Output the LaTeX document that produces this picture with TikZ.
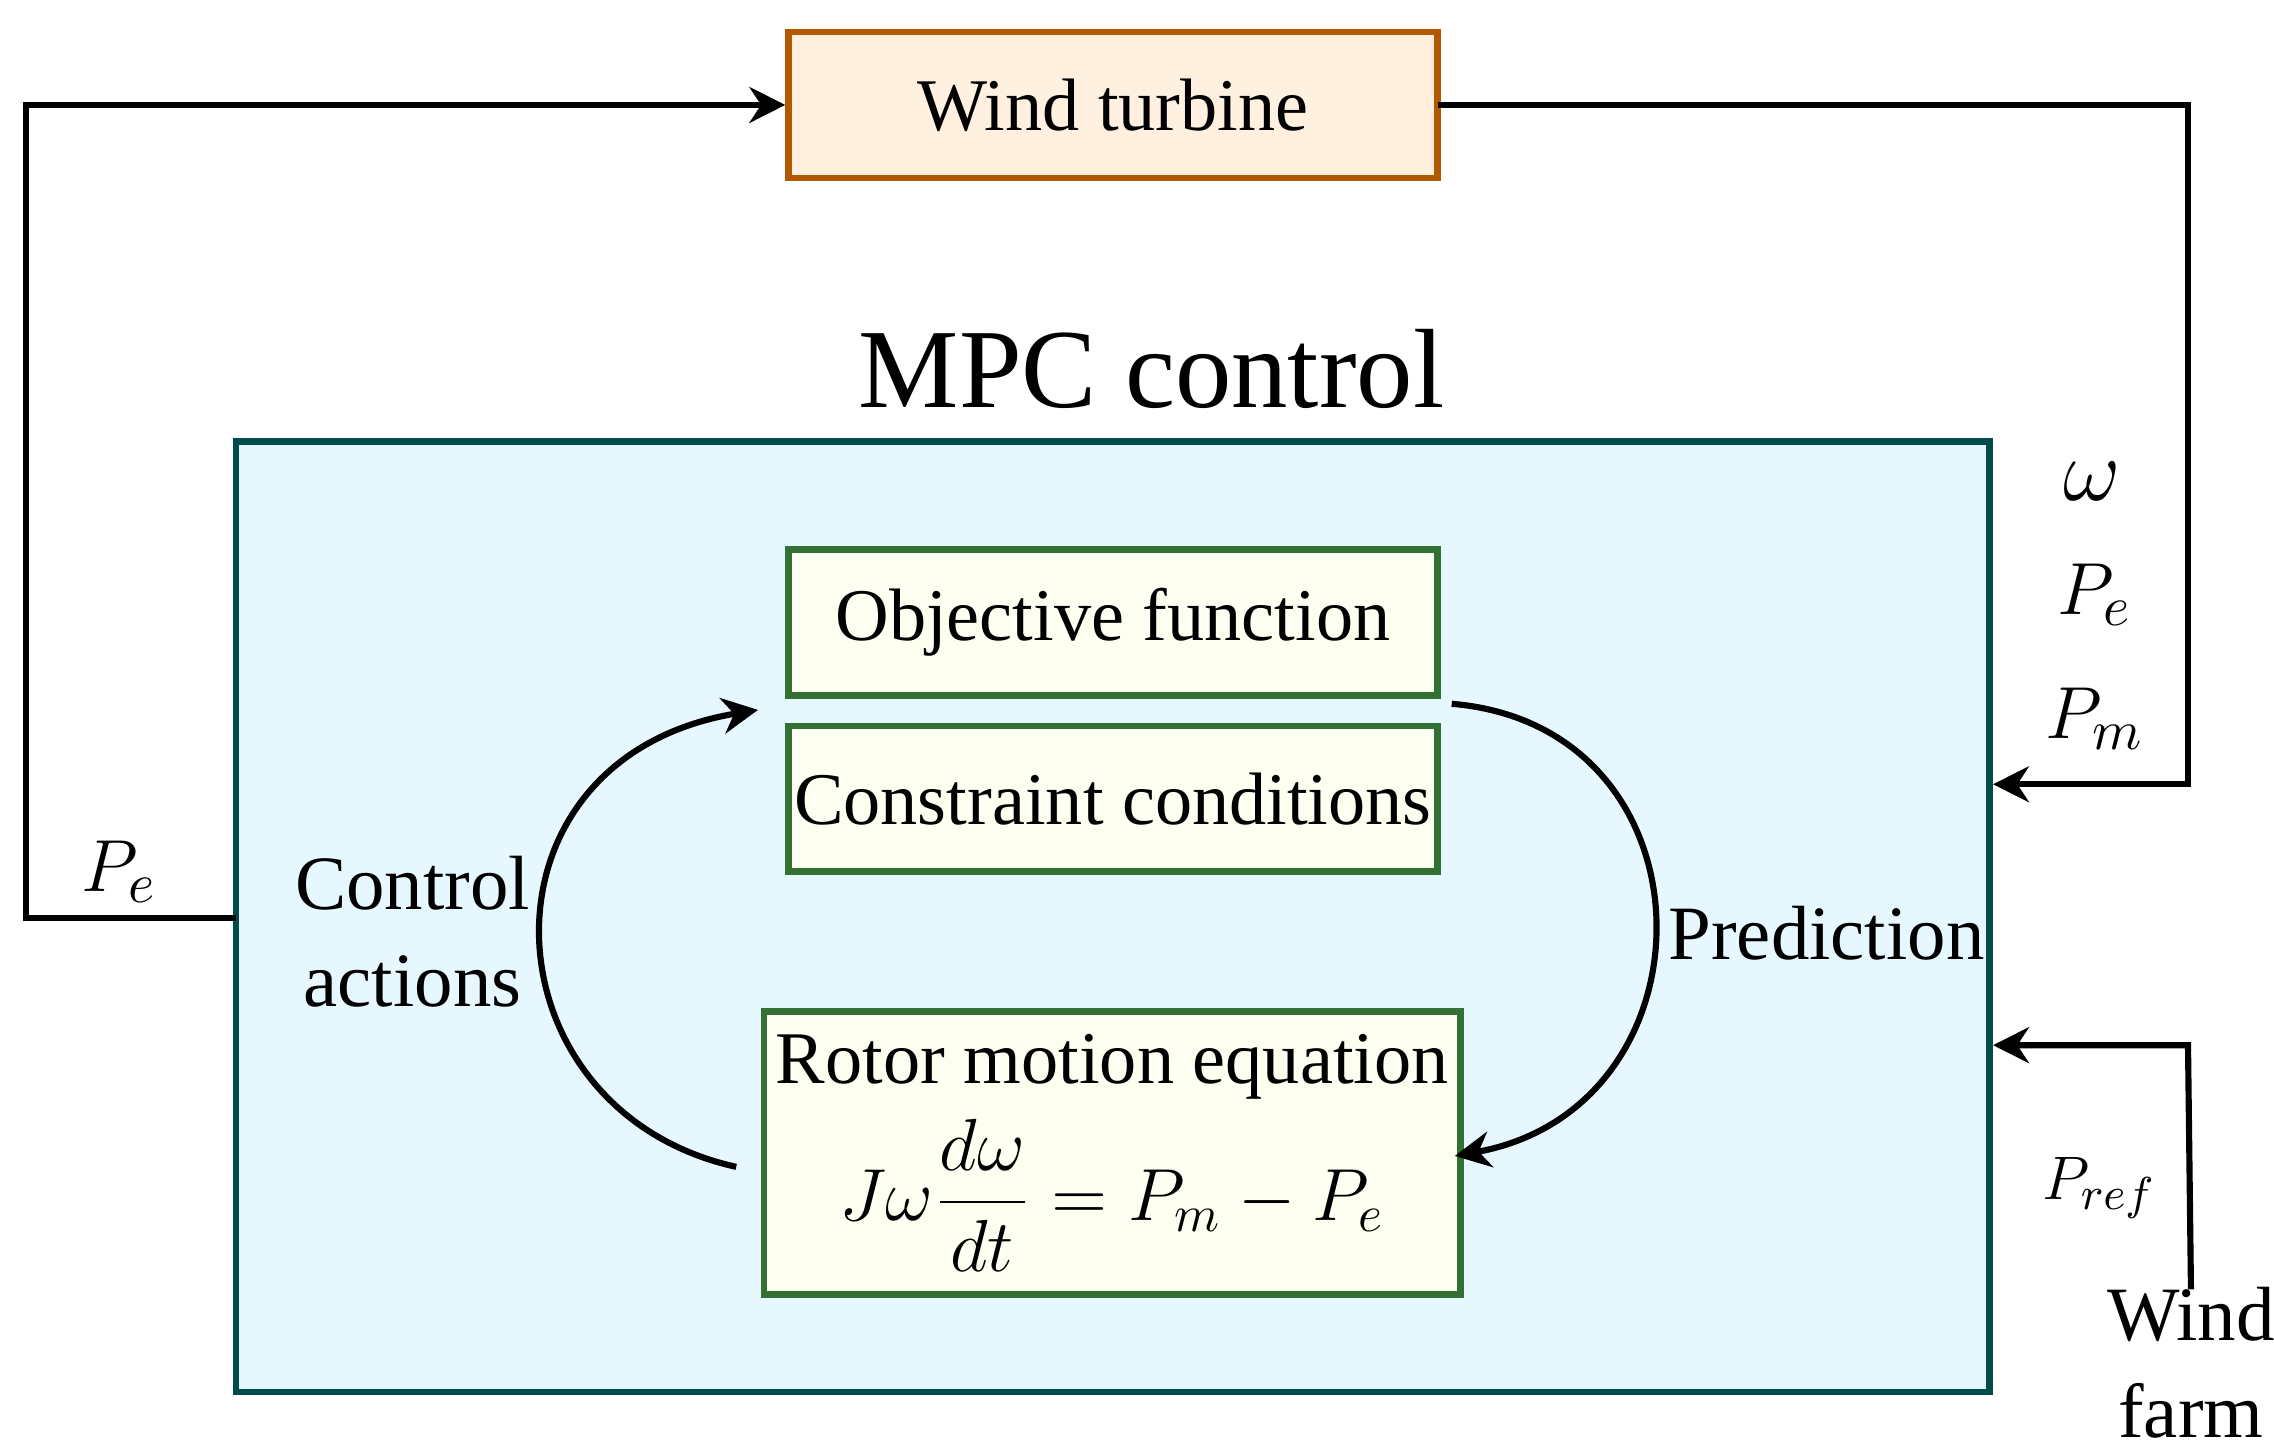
\documentclass[tikz,border=0pt]{standalone}
\usepackage{fontspec}
\setmainfont{Liberation Serif}
\usetikzlibrary{arrows.meta}
\begin{document}
\begin{tikzpicture}[x=0.1mm,y=-0.1mm,
  wire/.style={line width=1.2pt,line cap=rect},
  arr/.style={wire,-{Stealth[length=7pt,width=7pt]}},
  gbox/.style={draw=green!30!black!80,fill=green!10!yellow!6!white,line width=1.3pt,inner sep=0pt},
  lab/.style={font=\fontsize{15}{19}\selectfont}]
\useasboundingbox (0,0) rectangle (1560,989);
\node[draw=orange!70!black,fill=orange!12,line width=1.3pt,minimum width=44.5mm,minimum height=10mm,font=\fontsize{14.5}{17}\selectfont] (wt) at (763.5,72) {Wind turbine};
\node[font=\fontsize{22}{26}\selectfont] (title) at (790,253) {MPC control};
\node[draw=teal!60!black,fill=cyan!10,line width=1.3pt,minimum width=120.3mm,minimum height=65.2mm] (mpc) at (763.5,629) {};
\node[gbox,minimum width=44.5mm,minimum height=10mm,font=\fontsize{14.5}{17}\selectfont] (obj) at (763.5,427) {Objective function};
\node[gbox,minimum width=44.5mm,minimum height=10mm,font=\fontsize{14.5}{17}\selectfont] (con) at (763.5,548) {Constraint conditions};
\node[gbox,minimum width=47.8mm,minimum height=19.4mm] (rot) at (763,791) {};
\node[font=\fontsize{14.5}{17}\selectfont] (rott) at (763,732) {Rotor motion equation};
\node[font=\fontsize{14.5}{17}\selectfont] (eq) at (763,820) {$\displaystyle J\omega\frac{d\omega}{dt}=P_m-P_e$};
\node[lab,align=center] (ca) at (283,639) {Control\\actions};
\node[lab] (pr) at (1253,640) {Prediction};
\node[lab] (pe1) at (82,598) {$P_e$};
\node[font=\fontsize{18}{22}\selectfont] (w) at (1435,330) {$\omega$};
\node[lab] (pe2) at (1437,408) {$P_e$};
\node[lab] (pm) at (1437,493) {$P_m$};
\node[font=\fontsize{12.5}{15}\selectfont] (pref) at (1440,815) {$P_{ref}$};
\node[lab,align=center,inner sep=0pt] (wf) at (1503,935) {Wind\\farm};
\coordinate (a1) at (18,630);
\coordinate (a2) at (18,72);
\coordinate (b1) at (1501,72);
\coordinate (b2) at (1501,538);
\coordinate (c1) at (1501,717);
\draw[arr] (mpc.west |- a1) -- (a1) -- (a2) -- (wt.west);
\draw[arr] (wt.east) -- (b1) -- (b2) -- (mpc.east |- b2);
\draw[arr] (wf.north) -- (c1) -- (mpc.east |- c1);
\coordinate (l1) at (503,800);
\coordinate (l2) at (520,487);
\coordinate (r1) at (998,483);
\coordinate (r2) at (998,793);
\draw[arr] (l1) .. controls (330,760) and (320,520) .. (l2);
\draw[arr] (r1) .. controls (1180,500) and (1180,760) .. (r2);
\end{tikzpicture}
\end{document}
